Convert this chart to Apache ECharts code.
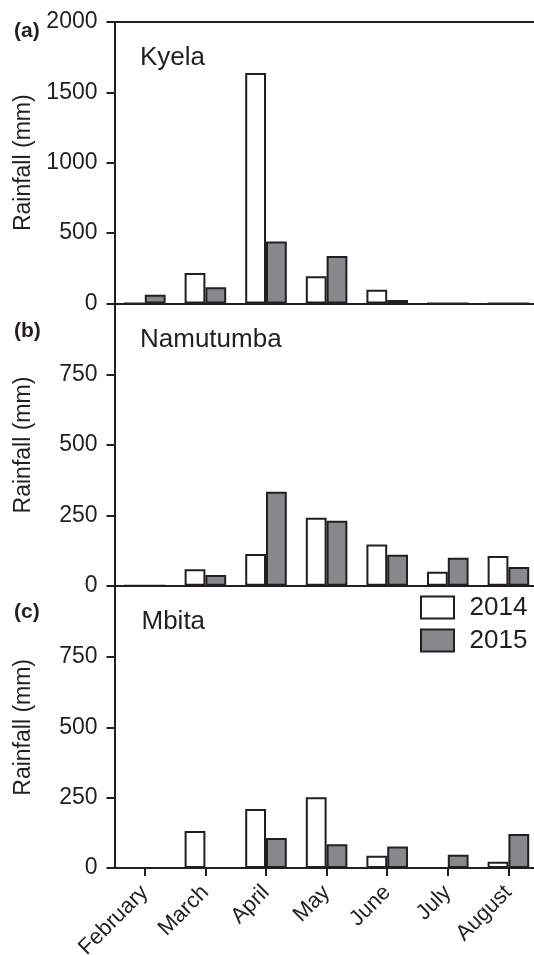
<!DOCTYPE html>
<html>
<head>
<meta charset="utf-8">
<script src="https://cdn.jsdelivr.net/npm/echarts@6/dist/echarts.min.js"></script>
<style>html,body{margin:0;padding:0;background:#fff}#c{width:534px;height:955px}</style>
</head>
<body>
<div id="c"></div>
<script>
const months = ['February','March','April','May','June','July','August'];
const panelLabels = ['(a)','(b)','(c)'];
const siteNames = ['Kyela','Namutumba','Mbita'];
const yMax = [2000, 1000, 1000];
const yInterval = [500, 250, 250];
const kyela2014 = [0, 216, 1637, 193, 98, 0, 0];
const kyela2015 = [62, 115, 440, 338, 25, 0, 0];
const namutumba2014 = [0, 59, 113, 242, 147, 50, 106];
const namutumba2015 = [0, 38, 334, 231, 110, 100, 67];
const mbita2014 = [0, 132, 210, 252, 44, 0, 23];
const mbita2015 = [0, 0, 107, 85, 77, 47, 121];
const years = ['2014','2015'];

const data2014 = [kyela2014, namutumba2014, mbita2014];
const data2015 = [kyela2015, namutumba2015, mbita2015];

const INK = '#231f20';
const GREY = '#87888b';
const FONT = 'Liberation Sans, Arial, sans-serif';
const tops = [22, 304.3, 586.6];
const H = 281.5;
// category band slots: 7 months plus one padding slot running off the right edge (figure is cropped)
const axisCats = months.concat(['']);

const grids = [], xAxes = [], yAxes = [], series = [], titles = [];
for (let i = 0; i < 3; i++) {
  grids.push({left: 114.5, top: tops[i], height: H, width: 484.8, outerBoundsMode: 'none', containLabel: false});
  xAxes.push({
    type: 'category', gridIndex: i, data: axisCats, position: 'bottom',
    axisLine: {lineStyle: {color: INK, width: 2}},
    axisTick: {show: i === 2, alignWithLabel: true, length: 8, lineStyle: {color: INK, width: 2}},
    axisLabel: {show: i === 2, rotate: 45, margin: 21, align: 'right', verticalAlign: 'middle',
      color: INK, fontSize: 22, fontFamily: FONT, interval: 0},
    splitLine: {show: false}
  });
  yAxes.push({
    type: 'value', gridIndex: i, min: 0, max: yMax[i], interval: yInterval[i],
    name: 'Rainfall (mm)', nameLocation: 'middle', nameGap: 79, nameRotate: 90,
    nameTextStyle: {color: INK, fontSize: 23, fontFamily: FONT},
    axisLine: {show: true, lineStyle: {color: INK, width: 2}},
    axisTick: {show: true, length: 8, lineStyle: {color: INK, width: 2}},
    axisLabel: {color: INK, fontSize: 23, fontFamily: FONT, margin: 17, showMaxLabel: i === 0,
      formatter: v => String(v)},
    splitLine: {show: false}
  });
  titles.push({text: panelLabels[i], left: 9, top: [15.5, 315.5, 596.5][i],
    textStyle: {color: INK, fontSize: 21, fontWeight: 'bold', fontFamily: FONT, lineHeight: 21}});
  titles.push({text: siteNames[i], left: [135, 135, 136.5][i], top: [40, 321.6, 604][i],
    textStyle: {color: INK, fontSize: 26, fontWeight: 'normal', fontFamily: FONT, lineHeight: 26}});
  series.push({
    name: years[0], type: 'bar', xAxisIndex: i, yAxisIndex: i, data: data2014[i],
    barGap: '0%', barCategoryGap: '31.4%', z: 1,
    itemStyle: {color: '#ffffff', borderColor: INK, borderWidth: 2},
    emphasis: {disabled: true}
  });
  series.push({
    name: years[1], type: 'bar', xAxisIndex: i, yAxisIndex: i, data: data2015[i],
    barGap: '0%', barCategoryGap: '31.4%', z: 1,
    itemStyle: {color: GREY, borderColor: INK, borderWidth: 2},
    emphasis: {disabled: true}
  });
}
// top frame line of panel (a)
xAxes.push({
  type: 'category', gridIndex: 0, data: axisCats, position: 'top',
  axisLine: {lineStyle: {color: INK, width: 2}}, axisTick: {show: false}, axisLabel: {show: false}
});

const chart = echarts.init(document.getElementById('c'), null, {renderer: 'canvas'});
chart.setOption({
  animation: false,
  backgroundColor: '#ffffff',
  title: titles,
  grid: grids,
  xAxis: xAxes,
  yAxis: yAxes,
  legend: {
    data: years, orient: 'vertical', left: 415, top: 589, padding: 5,
    itemWidth: 33, itemHeight: 22, itemGap: 6, icon: 'rect',
    textStyle: {color: INK, fontSize: 26, fontFamily: FONT, lineHeight: 27, padding: [0, 0, 0, 10.5]},
    selectedMode: false
  },
  series: series
});
</script>
</body>
</html>
